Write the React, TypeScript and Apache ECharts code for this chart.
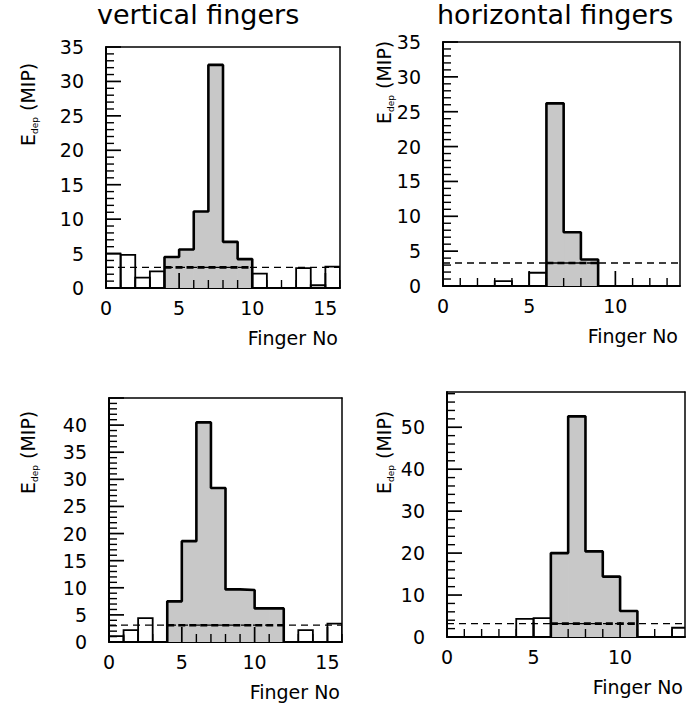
import React, { useEffect, useRef } from "react";
import * as echarts from "echarts";

// Energy deposited in each finger (MIP); bin k spans finger k .. k+1
const vertTopE = [5.0, 4.8, 1.5, 2.4, 4.5, 5.6, 11.1, 32.4, 6.7, 4.2, 2.1, 0, 0, 2.9, 0.4, 3.1];
const horizTopE = [0, 0, 0, 0.7, 0, 1.9, 26.2, 7.7, 3.8, 0, 0, 0, 0, 0];
const vertBotE = [1.1, 2.2, 4.4, 0, 7.5, 18.6, 40.5, 28.4, 9.7, 9.6, 6.2, 6.2, 0, 2.2, 0, 3.4];
const horizBotE = [0, 0, 0, 0, 4.3, 4.5, 20.0, 52.6, 20.4, 14.4, 6.2, 0, 0, 2.2];

// Finger ranges belonging to the shower cluster (shaded), [first, last + 1]
const vertTopCluster = [4, 10];
const horizTopCluster = [6, 9];
const vertBotCluster = [4, 12];
const horizBotCluster = [6, 11];

// Noise thresholds (MIP)
const vertTopCut = 3.0;
const horizTopCut = 3.3;
const vertBotCut = 3.1;
const horizBotCut = 3.2;

// Axis extents
const vertXMax = 16;
const horizXMax = 13.75;
const topYMax = 35;
const vertBotYMax = 45;
const horizBotYMax = 58.4;

// Tick spacing: labelled (major) and unlabelled (minor)
const xSteps = [5, 1];
const topYSteps = [5, 1];
const vertBotYSteps = [5, 1];
const horizBotYSteps = [10, 2];

const FONT = "DejaVu Sans";
const MAJOR_LEN = 15; // px
const MINOR_LEN = 8; // px

type Panel = {
  values: number[];
  cluster: number[];
  cut: number;
  xMax: number;
  yMax: number;
  ySteps: number[];
  labelTop: boolean;
  grid: { left: number; top: number; width: number; height: number };
  yTitle: { x: number; y: number };
};

const panels: Panel[] = [
  {
    values: vertTopE, cluster: vertTopCluster, cut: vertTopCut, xMax: vertXMax, yMax: topYMax,
    ySteps: topYSteps, labelTop: true,
    grid: { left: 106, top: 47, width: 234, height: 241 }, yTitle: { x: 28, y: 146 },
  },
  {
    values: horizTopE, cluster: horizTopCluster, cut: horizTopCut, xMax: horizXMax, yMax: topYMax,
    ySteps: topYSteps, labelTop: true,
    grid: { left: 443, top: 42, width: 237, height: 244 }, yTitle: { x: 384, y: 124 },
  },
  {
    values: vertBotE, cluster: vertBotCluster, cut: vertBotCut, xMax: vertXMax, yMax: vertBotYMax,
    ySteps: vertBotYSteps, labelTop: false,
    grid: { left: 109, top: 398, width: 233, height: 244 }, yTitle: { x: 28, y: 494 },
  },
  {
    values: horizBotE, cluster: horizBotCluster, cut: horizBotCut, xMax: horizXMax, yMax: horizBotYMax,
    ySteps: horizBotYSteps, labelTop: false,
    grid: { left: 447, top: 392, width: 238, height: 245 }, yTitle: { x: 384, y: 494 },
  },
];

// tick positions along one axis, split into major and minor
function tickValues(max: number, steps: number[]): { major: number[]; minor: number[] } {
  const [majorStep, minorStep] = steps;
  const major: number[] = [];
  const minor: number[] = [];
  const n = Math.floor(max / minorStep + 1e-9);
  for (let k = 1; k <= n; k++) {
    const v = Math.round(k * minorStep * 1000) / 1000;
    if (Math.abs(v / majorStep - Math.round(v / majorStep)) < 1e-6) major.push(v);
    else minor.push(v);
  }
  return { major, minor };
}

function buildGraphicTexts(): any[] {
  const graphic: any[] = [];
  panels.forEach((p) => {
    const g = p.grid;
    graphic.push({
      type: "text",
      x: g.left + g.width - 2,
      y: g.top + g.height + 50,
      style: {
        text: "Finger No",
        font: `19px '${FONT}'`,
        fill: "#000",
        align: "right",
        verticalAlign: "middle",
      },
    });
    graphic.push({
      type: "text",
      x: p.yTitle.x,
      y: p.yTitle.y,
      rotation: Math.PI / 2,
      style: {
        text: "{e|E}{d|dep}{m| (MIP)}",
        align: "left",
        verticalAlign: "middle",
        fill: "#000",
        rich: {
          e: { fontFamily: FONT, fontSize: 19, lineHeight: 22, fill: "#000" },
          d: { fontFamily: FONT, fontSize: 9, lineHeight: 22, verticalAlign: "bottom", fill: "#000" },
          m: { fontFamily: FONT, fontSize: 19, lineHeight: 22, fill: "#000" },
        },
      },
    });
  });
  graphic.push({
    type: "text",
    x: 97,
    y: 14,
    style: { text: "vertical fingers", font: `27px '${FONT}'`, fill: "#000", align: "left", verticalAlign: "middle" },
  });
  graphic.push({
    type: "text",
    x: 437,
    y: 14,
    style: { text: "horizontal fingers", font: `27px '${FONT}'`, fill: "#000", align: "left", verticalAlign: "middle" },
  });
  return graphic;
}

// inward tick marks, placed through each panel's own axes
function buildTickGraphics(chart: echarts.ECharts): any[] {
  const out: any[] = [];
  panels.forEach((p, i) => {
    const finder = { xAxisIndex: 2 * i, yAxisIndex: 2 * i };
    const tx = tickValues(p.xMax, xSteps);
    const ty = tickValues(p.yMax, p.ySteps);
    const add = (v: number, onX: boolean, major: boolean) => {
      const q = chart.convertToPixel(finder as any, onX ? [v, 0] : [0, v]) as number[];
      if (!q || isNaN(q[0]) || isNaN(q[1])) return;
      const len = major ? MAJOR_LEN : MINOR_LEN;
      out.push({
        type: "line",
        z: 100,
        silent: true,
        shape: onX
          ? { x1: q[0], y1: q[1], x2: q[0], y2: q[1] - len }
          : { x1: q[0], y1: q[1], x2: q[0] + len, y2: q[1] },
        style: { stroke: "#000", lineWidth: major ? 1.7 : 1.4 },
      });
    };
    tx.major.forEach((v) => add(v, true, true));
    tx.minor.forEach((v) => add(v, true, false));
    ty.major.forEach((v) => add(v, false, true));
    ty.minor.forEach((v) => add(v, false, false));
  });
  return out;
}

function buildOption(): echarts.EChartsCoreOption {
  const grid: any[] = [];
  const xAxis: any[] = [];
  const yAxis: any[] = [];
  const series: any[] = [];

  const labelStyle = { fontFamily: FONT, fontSize: 19, color: "#000" };
  const plain = { splitLine: { show: false }, axisTick: { show: false } };
  const frameSide = (extra: any) => ({
    type: "value",
    axisLine: { show: true, onZero: false, lineStyle: { color: "#000", width: 1.5 } },
    axisLabel: { show: false },
    ...plain,
    ...extra,
  });

  panels.forEach((p, i) => {
    grid.push({ ...p.grid, show: false });

    // x: labelled axis at the bottom, plain top edge of the frame
    xAxis.push({
      type: "value", gridIndex: i, position: "bottom", min: 0, max: p.xMax, interval: xSteps[0],
      axisLine: { show: true, onZero: false, lineStyle: { color: "#000", width: 2 } },
      axisLabel: { show: true, margin: 10, showMinLabel: true, showMaxLabel: false, ...labelStyle },
      ...plain,
    });
    xAxis.push(frameSide({ gridIndex: i, position: "top", min: 0, max: p.xMax }));

    // y: labelled axis at the left, plain right edge of the frame
    yAxis.push({
      type: "value", gridIndex: i, position: "left", min: 0, max: p.yMax, interval: p.ySteps[0],
      axisLine: { show: true, onZero: false, lineStyle: { color: "#000", width: 2 } },
      axisLabel: { show: true, margin: 22, showMinLabel: true, showMaxLabel: p.labelTop, ...labelStyle },
      ...plain,
    });
    yAxis.push(frameSide({ gridIndex: i, position: "right", min: 0, max: p.yMax }));

    const xi = 2 * i;
    const yi = 2 * i;
    const [c0, c1] = p.cluster;

    // one rectangle per finger bin
    series.push({
      type: "custom",
      xAxisIndex: xi,
      yAxisIndex: yi,
      clip: true,
      encode: { x: [0, 1], y: 2 },
      data: p.values.map((v, k) => [k, k + 1, v, k >= c0 && k < c1 ? 1 : 0]),
      renderItem: (_params: any, api: any) => {
        const x0 = api.value(0);
        const x1 = api.value(1);
        const v = api.value(2);
        const shaded = api.value(3) === 1;
        if (!v) return null;
        const a = api.coord([x0, 0]);
        const b = api.coord([x1, v]);
        return {
          type: "rect",
          shape: { x: a[0], y: b[1], width: b[0] - a[0], height: a[1] - b[1] },
          style: shaded
            ? { fill: "#c8c8c8", stroke: "#c8c8c8", lineWidth: 1 }
            : { fill: "none", stroke: "#000", lineWidth: 1.8 },
        };
      },
      z: 2,
    });

    // outline of the shaded cluster
    const outline: number[][] = [[c0, 0]];
    for (let k = c0; k < c1; k++) outline.push([k, p.values[k]]);
    outline.push([c1, 0]);
    series.push({
      type: "line",
      xAxisIndex: xi,
      yAxisIndex: yi,
      step: "end",
      symbol: "none",
      data: outline,
      lineStyle: { color: "#000", width: 2.6 },
      z: 3,
    });

    // threshold across the full range
    series.push({
      type: "line",
      xAxisIndex: xi,
      yAxisIndex: yi,
      symbol: "none",
      data: [[0, p.cut], [p.xMax, p.cut]],
      lineStyle: { color: "#000", width: 1.3, type: [7, 5] },
      z: 4,
    });
    // bolder threshold inside the cluster
    series.push({
      type: "line",
      xAxisIndex: xi,
      yAxisIndex: yi,
      symbol: "none",
      data: [[c0, p.cut], [c1, p.cut]],
      lineStyle: { color: "#000", width: 2.6, type: [7, 4] },
      z: 5,
    });
  });

  return {
    animation: false,
    backgroundColor: "#fff",
    textStyle: { fontFamily: FONT },
    grid,
    xAxis,
    yAxis,
    series,
    graphic: buildGraphicTexts(),
  };
}

export default function App() {
  const ref = useRef<HTMLDivElement>(null);
  useEffect(() => {
    if (!ref.current) return;
    const chart = echarts.init(ref.current, undefined, { renderer: "svg" });
    chart.setOption(buildOption());
    chart.setOption({ graphic: [...buildGraphicTexts(), ...buildTickGraphics(chart)] });
    return () => chart.dispose();
  }, []);
  return (
    <div
      ref={ref}
      style={{ position: "fixed", left: 0, top: 0, width: 686, height: 705, background: "#fff" }}
    />
  );
}
